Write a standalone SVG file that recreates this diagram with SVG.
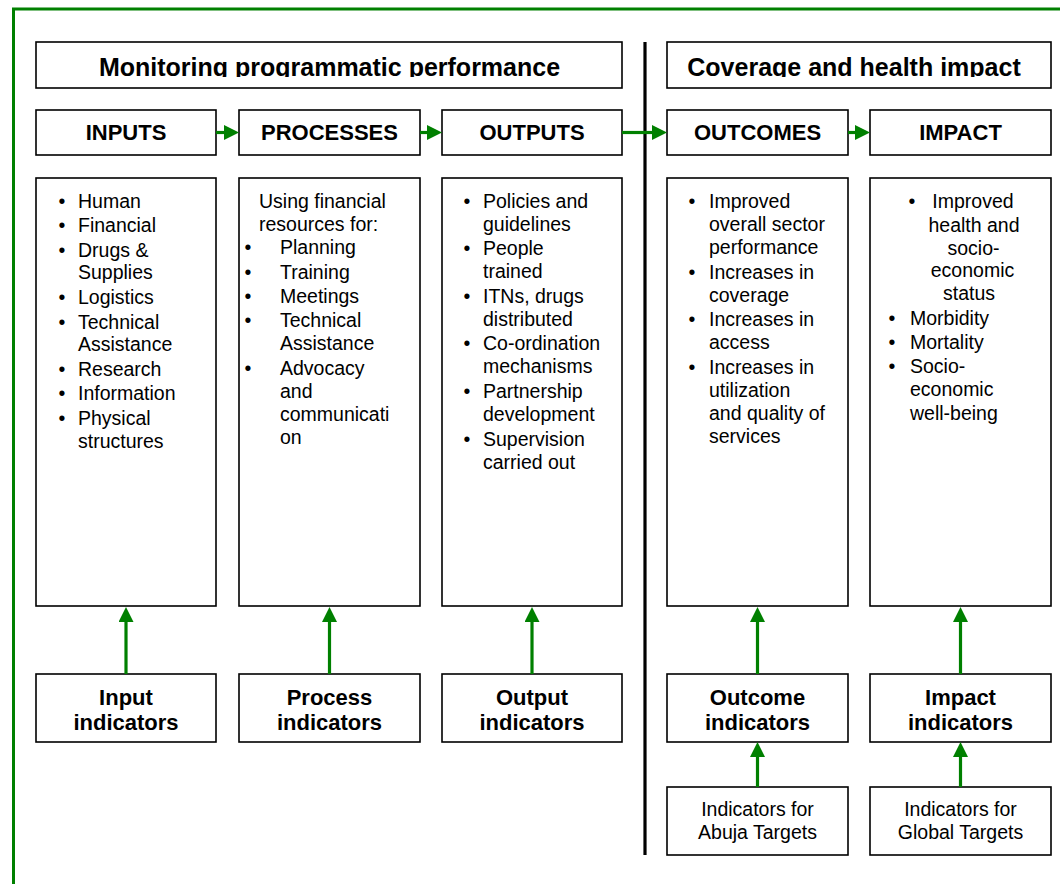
<svg xmlns="http://www.w3.org/2000/svg" width="1060" height="884" viewBox="0 0 1060 884">
<defs>
<style>
.box{fill:#fff;stroke:#000;stroke-width:1.6}
.t{font-family:"Liberation Sans",Arial,sans-serif;fill:#000}
.title{font-size:25px;font-weight:bold;text-anchor:middle}
.hd{font-size:22px;font-weight:bold;text-anchor:middle}
.ind{font-size:22px;font-weight:bold;text-anchor:middle}
.body{font-size:19.5px}
.bul{font-size:19.5px;text-anchor:middle}
.mid{text-anchor:middle}
.conn{stroke:#008000;stroke-width:3.2;fill:none;marker-end:url(#ah)}
</style>
<marker id="ah" markerUnits="userSpaceOnUse" markerWidth="15" markerHeight="15" refX="0" refY="7.5" orient="auto" viewBox="0 0 15 15">
<path d="M0,0 L15,7.5 L0,15 Z" fill="#008000"/>
</marker>
<clipPath id="c1"><rect x="36" y="42" width="586" height="35"/></clipPath>
<clipPath id="c2"><rect x="667" y="42" width="384" height="35"/></clipPath>
</defs>
<rect x="0" y="0" width="1060" height="884" fill="#fff"/>
<rect x="13.5" y="9" width="1100" height="900" fill="none" stroke="#008000" stroke-width="3"/>
<line x1="645" y1="42" x2="645" y2="855" stroke="#000" stroke-width="3.2"/>

<g id="title-monitoring">
<rect class="box" x="36" y="42" width="586" height="46"/>
<text class="t title" x="329.5" y="76" clip-path="url(#c1)">Monitoring programmatic performance</text>
</g>
<g id="title-coverage">
<rect class="box" x="667" y="42" width="384" height="46"/>
<text class="t title" x="854" y="76" clip-path="url(#c2)">Coverage and health impact</text>
</g>

<g id="inputs"><rect class="box" x="36" y="110" width="180" height="45"/><text class="t hd" x="126" y="140">INPUTS</text></g>
<g id="processes"><rect class="box" x="239" y="110" width="181" height="45"/><text class="t hd" x="329.5" y="140">PROCESSES</text></g>
<g id="outputs"><rect class="box" x="442" y="110" width="180" height="45"/><text class="t hd" x="532" y="140">OUTPUTS</text></g>
<g id="outcomes"><rect class="box" x="667" y="110" width="181" height="45"/><text class="t hd" x="757.5" y="140">OUTCOMES</text></g>
<g id="impact"><rect class="box" x="870" y="110" width="181" height="45"/><text class="t hd" x="960.5" y="140">IMPACT</text></g>

<g id="inputs-list">
<rect class="box" x="36" y="178" width="180" height="428"/>
<g class="t bul"><text x="62" y="208">•</text><text x="62" y="232">•</text><text x="62" y="257">•</text><text x="62" y="304">•</text><text x="62" y="329">•</text><text x="62" y="376">•</text><text x="62" y="400">•</text><text x="62" y="425">•</text></g>
<g class="t body">
<text x="78" y="208">Human</text>
<text x="78" y="232">Financial</text>
<text x="78" y="257">Drugs &amp;</text>
<text x="78" y="279">Supplies</text>
<text x="78" y="304">Logistics</text>
<text x="78" y="329">Technical</text>
<text x="78" y="351">Assistance</text>
<text x="78" y="376">Research</text>
<text x="78" y="400">Information</text>
<text x="78" y="425">Physical</text>
<text x="78" y="448">structures</text>
</g>
</g>

<g id="processes-list">
<rect class="box" x="239" y="178" width="181" height="428"/>
<g class="t bul"><text x="248" y="254">•</text><text x="248" y="279">•</text><text x="248" y="303">•</text><text x="248" y="327">•</text><text x="248" y="375">•</text></g>
<g class="t body">
<text x="259" y="208">Using financial</text>
<text x="259" y="231">resources for:</text>
<text x="280" y="254">Planning</text>
<text x="280" y="279">Training</text>
<text x="280" y="303">Meetings</text>
<text x="280" y="327">Technical</text>
<text x="280" y="350">Assistance</text>
<text x="280" y="375">Advocacy</text>
<text x="280" y="398">and</text>
<text x="280" y="421">communicati</text>
<text x="280" y="444">on</text>
</g>
</g>

<g id="outputs-list">
<rect class="box" x="442" y="178" width="180" height="428"/>
<g class="t bul"><text x="467" y="208">•</text><text x="467" y="255">•</text><text x="467" y="303">•</text><text x="467" y="350">•</text><text x="467" y="398">•</text><text x="467" y="446">•</text></g>
<g class="t body">
<text x="483" y="208">Policies and</text>
<text x="483" y="231">guidelines</text>
<text x="483" y="255">People</text>
<text x="483" y="278">trained</text>
<text x="483" y="303">ITNs, drugs</text>
<text x="483" y="326">distributed</text>
<text x="483" y="350">Co-ordination</text>
<text x="483" y="373">mechanisms</text>
<text x="483" y="398">Partnership</text>
<text x="483" y="421">development</text>
<text x="483" y="446">Supervision</text>
<text x="483" y="469">carried out</text>
</g>
</g>

<g id="outcomes-list">
<rect class="box" x="667" y="178" width="181" height="428"/>
<g class="t bul"><text x="692" y="208">•</text><text x="692" y="279">•</text><text x="692" y="326">•</text><text x="692" y="374">•</text></g>
<g class="t body">
<text x="709" y="208">Improved</text>
<text x="709" y="231">overall sector</text>
<text x="709" y="254">performance</text>
<text x="709" y="279">Increases in</text>
<text x="709" y="302">coverage</text>
<text x="709" y="326">Increases in</text>
<text x="709" y="349">access</text>
<text x="709" y="374">Increases in</text>
<text x="709" y="397">utilization</text>
<text x="709" y="420">and quality of</text>
<text x="709" y="443">services</text>
</g>
</g>

<g id="impact-list">
<rect class="box" x="870" y="178" width="181" height="428"/>
<g class="t bul"><text x="912" y="208">•</text><text x="892" y="325">•</text><text x="892" y="349">•</text><text x="892" y="373">•</text></g>
<g class="t body">
<text class="mid" x="973" y="208">Improved</text>
<text class="mid" x="974" y="232">health and</text>
<text class="mid" x="973.5" y="255">socio-</text>
<text class="mid" x="972.5" y="277">economic</text>
<text class="mid" x="969" y="300">status</text>
<text x="910" y="325">Morbidity</text>
<text x="910" y="349">Mortality</text>
<text x="910" y="373">Socio-</text>
<text x="910" y="396">economic</text>
<text x="910" y="420">well-being</text>
</g>
</g>

<g id="input-indicators"><rect class="box" x="36" y="674" width="180" height="68"/><text class="t ind" x="126" y="705">Input</text><text class="t ind" x="126" y="730">indicators</text></g>
<g id="process-indicators"><rect class="box" x="239" y="674" width="181" height="68"/><text class="t ind" x="329.5" y="705">Process</text><text class="t ind" x="329.5" y="730">indicators</text></g>
<g id="output-indicators"><rect class="box" x="442" y="674" width="180" height="68"/><text class="t ind" x="532" y="705">Output</text><text class="t ind" x="532" y="730">indicators</text></g>
<g id="outcome-indicators"><rect class="box" x="667" y="674" width="181" height="68"/><text class="t ind" x="757.5" y="705">Outcome</text><text class="t ind" x="757.5" y="730">indicators</text></g>
<g id="impact-indicators"><rect class="box" x="870" y="674" width="181" height="68"/><text class="t ind" x="960.5" y="705">Impact</text><text class="t ind" x="960.5" y="730">indicators</text></g>

<g id="abuja-targets"><rect class="box" x="667" y="787" width="181" height="68"/><text class="t body mid" x="757.5" y="816">Indicators for</text><text class="t body mid" x="757.5" y="839">Abuja Targets</text></g>
<g id="global-targets"><rect class="box" x="870" y="787" width="181" height="68"/><text class="t body mid" x="960.5" y="816">Indicators for</text><text class="t body mid" x="960.5" y="839">Global Targets</text></g>

<g id="connectors">
<line class="conn" x1="216" y1="132.5" x2="224" y2="132.5"/>
<line class="conn" x1="420" y1="132.5" x2="427" y2="132.5"/>
<line class="conn" x1="622" y1="132.5" x2="652" y2="132.5"/>
<line class="conn" x1="848" y1="132.5" x2="855" y2="132.5"/>
<line class="conn" x1="126" y1="674" x2="126" y2="622"/>
<line class="conn" x1="329.5" y1="674" x2="329.5" y2="622"/>
<line class="conn" x1="532" y1="674" x2="532" y2="622"/>
<line class="conn" x1="757.5" y1="674" x2="757.5" y2="622"/>
<line class="conn" x1="960.5" y1="674" x2="960.5" y2="622"/>
<line class="conn" x1="757.5" y1="787" x2="757.5" y2="757"/>
<line class="conn" x1="960.5" y1="787" x2="960.5" y2="757"/>
</g>
</svg>
